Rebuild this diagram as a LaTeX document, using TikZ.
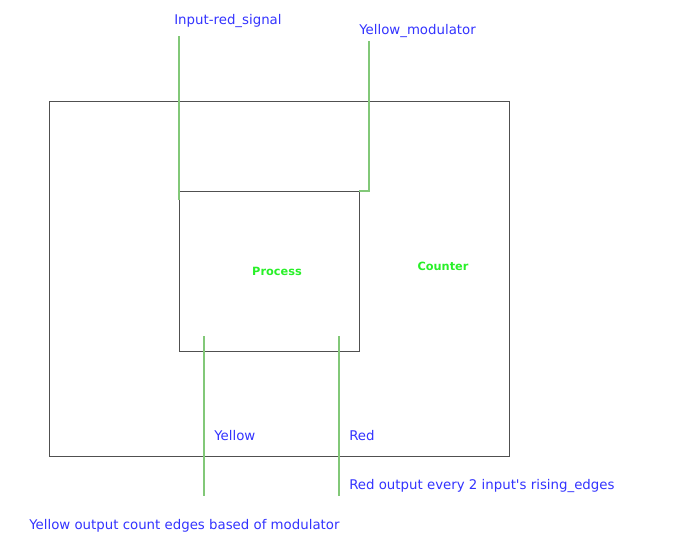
\documentclass[tikz,border=0pt]{standalone}
\usepackage{fontspec}
\setmainfont{DejaVu Sans}
\usetikzlibrary{positioning}
\definecolor{wirecol}{RGB}{130,200,120}
\definecolor{lblcol}{RGB}{51,51,255}
\definecolor{namecol}{RGB}{40,240,40}
\definecolor{boxcol}{RGB}{80,80,80}
\begin{document}
\begin{tikzpicture}[x=0.75pt,y=-0.75pt,
  blk/.style={draw=boxcol,line width=0.75pt,inner sep=0pt,outer sep=0pt},
  wire/.style={draw=wirecol,line width=0.9pt},
  lbl/.style={text=lblcol,font=\fontsize{10}{12}\selectfont,inner sep=0pt,anchor=west},
  title/.style={text=namecol,font=\bfseries\fontsize{8.5}{10}\selectfont,inner sep=0pt}]
   \useasboundingbox (0,0) rectangle (674,540);
   \node[blk,minimum width=345pt,minimum height=266.25pt] (counter) at (279,278.5) {};
   \node[blk,minimum width=135pt,minimum height=120pt] (proc) at (269,271) {};
   \node[title] (proclbl) at (277,271) {Process};
   \node[title] (cntlbl) at (443,266) {Counter};
   % inputs
   \node[lbl] (inred) at (174,21) {Input-red\_signal};
   \node[lbl] (ymod) at (359,31) {Yellow\_modulator};
   \coordinate (inredtop) at (179,36);
   \coordinate (inredend) at (179,200);
   \coordinate (ymodtop) at (369,41);
   \coordinate (ymodbend) at (369,191);
   \draw[wire] (inredtop) -- (inredend);
   \draw[wire] (ymodtop) -- (ymodbend) -- (proc.north east);
   % outputs
   \coordinate (yout1) at (204,336);
   \coordinate (yout2) at (204,496);
   \coordinate (rout1) at (339,336);
   \coordinate (rout2) at (339,496);
   \draw[wire] (yout1) -- (yout2);
   \draw[wire] (rout1) -- (rout2);
   \node[lbl] (ylbl) at (214,436) {Yellow};
   \node[lbl] (rlbl) at (349,436) {Red};
   \node[lbl] (rnote) at (349,486) {Red output every 2 input\textquotesingle s rising\_edges};
   \node[lbl] (ynote) at (29,526) {Yellow output count edges based of modulator};
\end{tikzpicture}
\end{document}
